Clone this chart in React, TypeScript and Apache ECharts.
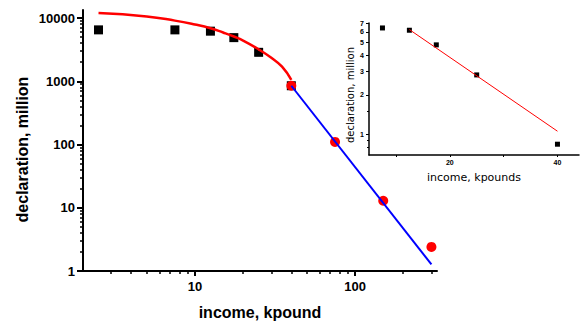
import React, { useEffect, useRef } from "react";
import * as echarts from "echarts";

// ---- main plot data ----
const mainIncome = [2.5, 7.5, 12.5, 17.5, 25, 40];
const mainDecl = [6500, 6500, 6200, 4900, 2870, 850];
const tailIncome = [40, 75, 150, 300];
const tailDecl = [850, 110, 12.9, 2.4];
const expFitIncome = [2.5, 5, 7.5, 10, 12.5, 15, 17.5, 20, 25, 30, 35, 40];
const expFitDecl = [12000, 10600, 9100, 7900, 6900, 5900, 5100, 4400, 3200, 2350, 1700, 1050];
const powFitIncome = [40, 300];
const powFitDecl = [850, 1.27];
const mainXLabels = [10, 100];
const mainYLabels = [1, 10, 100, 1000, 10000];
const mainXMinor = [3, 4, 5, 6, 7, 8, 9, 20, 30, 40, 50, 60, 70, 80, 90, 200, 300];
const mainYMinor = [
  2, 3, 4, 5, 6, 7, 8, 9,
  20, 30, 40, 50, 60, 70, 80, 90,
  200, 300, 400, 500, 600, 700, 800, 900,
  2000, 3000, 4000, 5000, 6000, 7000, 8000, 9000,
];

// ---- inset data ----
const insetIncome = [7.5, 12.5, 17.5, 25, 40];
const insetDecl = [6.42, 6.17, 4.78, 2.83, 0.845];
const insetFitIncome = [12.5, 40];
const insetFitDecl = [6.24, 1.06];
const insetYLabels = [1, 2, 3, 4, 5, 6, 7];
const insetYMinor = [0.8, 0.9, 1.5];
const insetXLabels = [20, 40];
const insetXTicks = [10, 20, 30, 40];

const lg = (v: number) => Math.log10(v);
const pairsLog = (xs: number[], ys: number[]) => xs.map((x, i) => [lg(x), lg(ys[i])]);
const pairsLinLog = (xs: number[], ys: number[]) => xs.map((x, i) => [x, lg(ys[i])]);
const powLabel = (v: number) => String(Math.round(Math.pow(10, v)));

const FONT = "Liberation Sans";
const INSET_FONT = "DejaVu Sans";

export default function App() {
  const ref = useRef<HTMLDivElement>(null);
  useEffect(() => {
    if (!ref.current) return;
    const chart = echarts.init(ref.current, undefined, { renderer: "svg" });
    const boldLabel = { fontFamily: FONT, fontWeight: "bold" as const, fontSize: 13, color: "#000" };
    const insetLabel = { fontFamily: FONT, fontWeight: "bold" as const, fontSize: 7, color: "#000" };
    const hidden = { show: false };
    const hiddenLine = { show: false, onZero: false };
    chart.setOption({
      animation: false,
      backgroundColor: "#fff",
      grid: [
        { left: 83, top: 10, width: 354, height: 261, outerBoundsMode: "none" },
        { left: 369, top: 23, width: 210, height: 132, outerBoundsMode: "none" },
      ],
      xAxis: [
        {
          type: "value", gridIndex: 0, position: "bottom", min: lg(2), max: lg(325),
          axisLine: { onZero: false, lineStyle: { color: "#000", width: 2 } },
          axisTick: { customValues: mainXLabels.map(lg), length: 5, lineStyle: { color: "#000", width: 2 } },
          axisLabel: { customValues: mainXLabels.map(lg), formatter: powLabel, margin: 9, ...boldLabel },
          splitLine: hidden,
          name: "income, kpound", nameLocation: "middle", nameGap: 33, nameMoveOverlap: false,
          nameTextStyle: { fontFamily: FONT, fontWeight: "bold", fontSize: 16, color: "#000" },
        },
        {
          type: "value", gridIndex: 0, position: "bottom", offset: 0, min: lg(2), max: lg(325),
          axisLine: hiddenLine,
          axisTick: { customValues: mainXMinor.map(lg), length: 3, lineStyle: { color: "#000", width: 1.5 } },
          axisLabel: hidden, splitLine: hidden,
        },
        {
          type: "value", gridIndex: 1, position: "bottom", min: 5, max: 44,
          axisLine: { onZero: false, lineStyle: { color: "#000", width: 1.5 } },
          axisTick: { customValues: insetXTicks, length: 2, lineStyle: { color: "#000", width: 1 } },
          axisLabel: { customValues: insetXLabels, margin: 4, ...insetLabel },
          splitLine: hidden,
          name: "income, kpounds", nameLocation: "middle", nameGap: 17, nameMoveOverlap: false,
          nameTextStyle: { fontFamily: INSET_FONT, fontSize: 11, color: "#000" },
        },
      ],
      yAxis: [
        {
          type: "value", gridIndex: 0, position: "left", min: 0, max: lg(13400),
          axisLine: { show: true, onZero: false, lineStyle: { color: "#000", width: 2 } },
          axisTick: { show: true, customValues: mainYLabels.map(lg), length: 6, lineStyle: { color: "#000", width: 2 } },
          axisLabel: { customValues: mainYLabels.map(lg), formatter: powLabel, margin: 8, ...boldLabel },
          splitLine: hidden,
          name: "declaration, million", nameLocation: "middle", nameGap: 53, nameMoveOverlap: false,
          nameTextStyle: { fontFamily: FONT, fontWeight: "bold", fontSize: 16, color: "#000", padding: [0, 18, 0, 0] },
        },
        {
          type: "value", gridIndex: 0, position: "left", offset: 0, min: 0, max: lg(13400),
          axisLine: hiddenLine,
          axisTick: { show: true, customValues: mainYMinor.map(lg), length: 3, lineStyle: { color: "#000", width: 1.5 } },
          axisLabel: hidden, splitLine: hidden,
        },
        {
          type: "value", gridIndex: 1, position: "left", min: lg(0.7), max: lg(7),
          axisLine: { show: true, onZero: false, lineStyle: { color: "#000", width: 1.5 } },
          axisTick: { show: true, customValues: insetYLabels.map(lg), length: 3, lineStyle: { color: "#000", width: 1 } },
          axisLabel: { customValues: insetYLabels.map(lg), formatter: powLabel, margin: 5, ...insetLabel },
          splitLine: hidden,
          name: "declaration, million", nameLocation: "middle", nameGap: 14, nameMoveOverlap: false,
          nameTextStyle: { fontFamily: INSET_FONT, fontSize: 10, color: "#000", padding: [0, 12, 0, 0] },
        },
        {
          type: "value", gridIndex: 1, position: "left", offset: 0, min: lg(0.7), max: lg(7),
          axisLine: hiddenLine,
          axisTick: { show: true, customValues: insetYMinor.map(lg), length: 2, lineStyle: { color: "#000", width: 1 } },
          axisLabel: hidden, splitLine: hidden,
        },
      ],
      series: [
        {
          type: "scatter", xAxisIndex: 0, yAxisIndex: 0, symbol: "rect", symbolSize: 9,
          itemStyle: { color: "#000", opacity: 1 }, data: pairsLog(mainIncome, mainDecl),
        },
        {
          type: "scatter", xAxisIndex: 0, yAxisIndex: 0, symbol: "circle", symbolSize: 10,
          itemStyle: { color: "#ff0000", opacity: 1 }, data: pairsLog(tailIncome, tailDecl),
        },
        {
          type: "line", xAxisIndex: 0, yAxisIndex: 0, smooth: true, showSymbol: false,
          lineStyle: { color: "#ff0000", width: 2.5 }, data: pairsLog(expFitIncome, expFitDecl),
        },
        {
          type: "line", xAxisIndex: 0, yAxisIndex: 0, showSymbol: false,
          lineStyle: { color: "#0000ff", width: 2 }, data: pairsLog(powFitIncome, powFitDecl),
        },
        {
          type: "scatter", xAxisIndex: 2, yAxisIndex: 2, symbol: "rect", symbolSize: 5,
          itemStyle: { color: "#000", opacity: 1 }, data: pairsLinLog(insetIncome, insetDecl),
        },
        {
          type: "line", xAxisIndex: 2, yAxisIndex: 2, showSymbol: false,
          lineStyle: { color: "#ff0000", width: 1 }, data: pairsLinLog(insetFitIncome, insetFitDecl),
        },
      ],
    });
    return () => chart.dispose();
  }, []);
  return <div ref={ref} style={{ width: 580, height: 323, position: "absolute", left: 0, top: 0 }} />;
}
